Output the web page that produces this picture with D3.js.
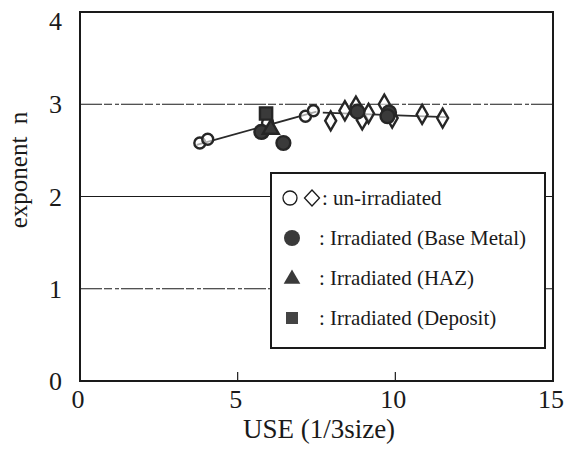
<!DOCTYPE html>
<html>
<head>
<meta charset="utf-8">
<script src="https://cdn.jsdelivr.net/npm/d3@7"></script>
<style>
  body { margin: 0; background: #fff; }
  text { font-family: "Liberation Serif", "Times New Roman", serif; fill: #1a1a1a; }
</style>
</head>
<body>
<svg id="chart" width="565" height="457"></svg>
<script>
// Data
var unCircles = [[3.8, 2.58], [4.05, 2.62], [5.8, 2.69], [5.95, 2.8], [7.15, 2.87], [7.4, 2.93]];
var unDiamonds = [[7.95, 2.82], [8.4, 2.93], [8.75, 2.98], [8.95, 2.83], [9.15, 2.9],
                  [9.65, 3.0], [9.9, 2.85], [10.85, 2.89], [11.5, 2.85]];
var baseMetal = [[6.45, 2.58], [5.75, 2.7], [8.8, 2.92], [9.8, 2.91], [9.75, 2.87]];
var haz = [[6.05, 2.73]];
var deposit = [[5.9, 2.9]];
var fitLines = [
  [[3.7, 2.56], [7.5, 2.92]],
  [[7.7, 2.91], [11.6, 2.86]]
];
var xTicks = [0, 5, 10, 15];
var yTicks = [0, 1, 2, 3, 4];
var legendLabels = [": un-irradiated", ": Irradiated (Base Metal)", ": Irradiated (HAZ)", ": Irradiated (Deposit)"];

var svg = d3.select("#chart");
var ink = "#1a1a1a";

var x = d3.scaleLinear().domain([0, 15]).range([80, 553]);
var y = d3.scaleLinear().domain([0, 4]).range([381, 12]);

// grid lines
svg.append("g")
  .selectAll("line")
  .data([1, 2, 3])
  .enter().append("line")
  .attr("x1", x(0)).attr("x2", x(15))
  .attr("y1", function(d) { return y(d); })
  .attr("y2", function(d) { return y(d); })
  .style("stroke", ink)
  .style("stroke-width", 1.2)
  .style("stroke-dasharray", function(d) { return d == 2 ? null : "22,2,8,3,4,2"; });

// bottom inner ticks
svg.append("g")
  .selectAll("line")
  .data([5, 10])
  .enter().append("line")
  .attr("x1", function(d) { return x(d); })
  .attr("x2", function(d) { return x(d); })
  .attr("y1", y(0)).attr("y2", y(0) - 9)
  .style("stroke", ink)
  .style("stroke-width", 1.2);

// frame
svg.append("rect")
  .attr("x", x(0)).attr("y", y(4))
  .attr("width", x(15) - x(0)).attr("height", y(0) - y(4))
  .style("fill", "none")
  .style("stroke", ink)
  .style("stroke-width", 2);

// tick labels
svg.append("g")
  .selectAll("text")
  .data(yTicks)
  .enter().append("text")
  .attr("x", 62)
  .attr("y", function(d) { return Math.max(y(d) + 9, 30); })
  .attr("text-anchor", "end")
  .style("font-size", "26px")
  .text(function(d) { return d; });

svg.append("g")
  .selectAll("text")
  .data(xTicks)
  .enter().append("text")
  .attr("x", function(d) { return x(d) - 2; })
  .attr("y", 408)
  .attr("text-anchor", "middle")
  .style("font-size", "26px")
  .text(function(d) { return d; });

// axis titles
svg.append("text")
  .attr("x", 319).attr("y", 438)
  .attr("text-anchor", "middle")
  .style("font-size", "27px")
  .text("USE (1/3size)");

svg.append("text")
  .attr("transform", "translate(27,170) rotate(-90)")
  .attr("text-anchor", "middle")
  .style("font-size", "25px")
  .text("exponent\u00a0\u00a0n");

// fit lines
var line = d3.line()
  .x(function(d) { return x(d[0]); })
  .y(function(d) { return y(d[1]); });

svg.append("g")
  .selectAll("path")
  .data(fitLines)
  .enter().append("path")
  .attr("d", line)
  .style("fill", "none")
  .style("stroke", "#2a2a2a")
  .style("stroke-width", 1.8);

var sym = function(type, size) { return d3.symbol().type(type).size(size)(); };

function drawPoints(data, type, size, filled) {
  svg.append("g")
    .selectAll("path")
    .data(data)
    .enter().append("path")
    .attr("transform", function(d) { return "translate(" + x(d[0]) + "," + y(d[1]) + ")"; })
    .attr("d", sym(type, size))
    .style("fill", filled ? "#3a3a3a" : "#fff")
    .style("fill-opacity", filled ? 1 : 0.6)
    .style("stroke", "#262626")
    .style("stroke-width", 2.4);
}

drawPoints(unCircles, d3.symbolCircle, 95, false);
drawPoints(unDiamonds, d3.symbolDiamond, 105, false);
drawPoints(baseMetal, d3.symbolCircle, 150, true);
drawPoints(haz, d3.symbolTriangle, 110, true);
drawPoints(deposit, d3.symbolSquare, 150, true);

// legend
var lg = svg.append("g");
lg.append("rect")
  .attr("x", 271).attr("y", 173)
  .attr("width", 274).attr("height", 175)
  .style("fill", "#fff")
  .style("stroke", ink)
  .style("stroke-width", 2);

var rowY = [198, 238, 278, 318];

lg.append("circle").attr("cx", 290).attr("cy", rowY[0]).attr("r", 7)
  .style("fill", "none").style("stroke", ink).style("stroke-width", 1.3);
lg.append("path").attr("transform", "translate(312," + rowY[0] + ")")
  .attr("d", "M0,-8L7.5,0L0,8L-7.5,0Z")
  .style("fill", "none").style("stroke", ink).style("stroke-width", 1.3);
lg.append("circle").attr("cx", 292).attr("cy", rowY[1]).attr("r", 8)
  .style("fill", "#3a3a3a");
lg.append("path").attr("transform", "translate(292," + (rowY[2] + 1) + ")")
  .attr("d", sym(d3.symbolTriangle, 120))
  .style("fill", "#3a3a3a");
lg.append("rect").attr("x", 286).attr("y", rowY[3] - 6).attr("width", 12).attr("height", 12)
  .style("fill", "#444");

lg.selectAll("text.lab")
  .data(legendLabels)
  .enter().append("text")
  .attr("class", "lab")
  .attr("x", function(d, i) { return i == 0 ? 322 : 319; })
  .attr("y", function(d, i) { return rowY[i] + 7; })
  .style("font-size", "21px")
  .text(function(d) { return d; });
</script>
</body>
</html>
